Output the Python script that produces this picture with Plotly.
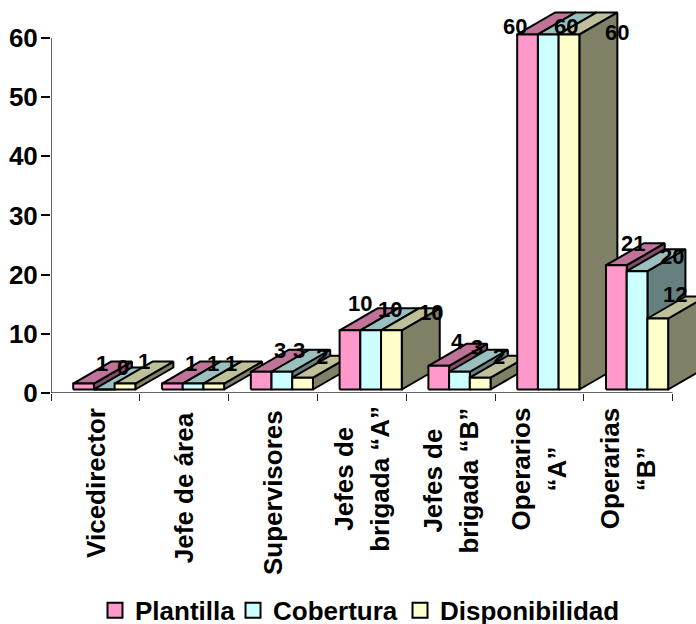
import plotly.graph_objects as go

categories = ["Vicedirector", "Jefe de área", "Supervisores", "Jefes de<br>brigada “A”",
              "Jefes de<br>brigada “B”", "Operarios<br>“A”", "Operarias<br>“B”"]
plantilla = [1, 1, 3, 10, 4, 60, 21]
cobertura = [0, 1, 3, 10, 3, 60, 20]
disponibilidad = [1, 1, 2, 10, 2, 60, 12]
series_names = ["Plantilla", "Cobertura", "Disponibilidad"]
series_values = [plantilla, cobertura, disponibilidad]
y_ticks = [0, 10, 20, 30, 40, 50, 60]

front_colors = ["#FF99CC", "#CCFFFF", "#FFFFCC"]
top_colors = ["#BF7399", "#99BFBF", "#BFBF99"]
side_colors = ["#804D66", "#668080", "#808066"]

# pseudo-3D geometry, in axis units
PX_PER_CAT = 88.8
PX_PER_UNIT = 5.917
GAP = 0.25
BAR_W = 0.2333
DX = 38 / PX_PER_CAT
DY = 22 / PX_PER_UNIT
BASE = 3.5 / PX_PER_UNIT

# pixel offsets of each data label from the top-centre of its bar's front face
label_dx = [[18, 19, 19], [19, 20, 17], [19, 17, 19], [10, 19, 40], [19, 18, 19], [-13, 18, 48], [17, 35, 17]]
label_dy = [[20, 22, 22], [20, 20, 20], [21, 21, 21], [27, 21, 18], [24, 24, 21], [8, 8, 2], [22, 15, 24]]
# pixels below the x axis of the middle of each category label
cat_label_drop = [89.5, 95, 100, 86, 88, 76, 76]
LINE_SPLIT = 18
# left edge, in paper fractions of the plot width, of each legend entry
legend_x = [0.0682, 0.2822, 0.5411]

fig = go.Figure()
annotations = []


def face(xs, ys, color):
    fig.add_trace(go.Scatter(x=xs, y=ys, mode="lines", fill="toself", fillcolor=color,
                             line=dict(color="black", width=2), cliponaxis=False,
                             showlegend=False, hoverinfo="skip"))


# axis lines stop at the last tick, while the plot area runs on for the depth of the bars
fig.add_trace(go.Scatter(x=[0, 0, len(categories)], y=[y_ticks[-1], 0, 0], mode="lines",
                         line=dict(color="#333", width=1.5), cliponaxis=False,
                         showlegend=False, hoverinfo="skip"))

for c in range(len(categories)):
    for s, values in enumerate(series_values):
        v = values[c]
        x0 = c + GAP + s * BAR_W
        x1 = x0 + BAR_W
        top = BASE + v
        face([x1, x1 + DX, x1 + DX, x1, x1], [BASE, BASE + DY, top + DY, top, BASE], side_colors[s])
        face([x0, x1, x1 + DX, x0 + DX, x0], [top, top, top + DY, top + DY, top], top_colors[s])
        face([x0, x1, x1, x0, x0], [BASE, BASE, top, top, BASE], front_colors[s])
        annotations.append(dict(x=(x0 + x1) / 2, y=top, text=f"<b>{v}</b>", showarrow=False,
                                xshift=label_dx[c][s], yshift=label_dy[c][s],
                                font=dict(family="Liberation Sans", size=22, color="black")))
    lines = categories[c].split("<br>")
    for i, line in enumerate(lines):
        shift = (2 * i - len(lines) + 1) * LINE_SPLIT
        annotations.append(dict(x=c + 0.5, y=0, text=f"<b>{line}</b>", showarrow=False, textangle=-90,
                                xanchor="center", yanchor="middle", xshift=shift,
                                yshift=-cat_label_drop[c],
                                font=dict(family="Liberation Sans", size=26, color="black")))

legend_layouts = {}
for i, (name, color) in enumerate(zip(series_names, front_colors)):
    key = "legend" if i == 0 else f"legend{i + 1}"
    fig.add_trace(go.Scatter(x=[None], y=[None], mode="markers", name=name, legend=key,
                             marker=dict(symbol="square", size=15, color=color,
                                         line=dict(color="black", width=2))))
    legend_layouts[key] = dict(x=legend_x[i], xanchor="left", y=-0.553, yanchor="middle",
                               font=dict(family="Liberation Sans", size=26, weight="bold"),
                               itemwidth=30, bgcolor="rgba(0,0,0,0)")

fig.update_layout(
    width=696, height=624, paper_bgcolor="white", plot_bgcolor="white",
    margin=dict(l=51, r=0, t=0, b=231, pad=0, autoexpand=False),
    annotations=annotations,
    font=dict(family="Liberation Sans", color="black"),
    xaxis=dict(range=[0, 645 / PX_PER_CAT], showticklabels=False, ticks="", showgrid=False,
               zeroline=False, showline=False, tickmode="array", tickvals=[],
               minor=dict(tickmode="array", tickvals=list(range(len(categories) + 1)),
                          ticks="outside", ticklen=7, tickwidth=1, tickcolor="#222", showgrid=False)),
    yaxis=dict(range=[0, 393 / PX_PER_UNIT], tickmode="array", tickvals=y_ticks, ticks="outside", ticklen=9,
               tickwidth=1.5, tickcolor="black", showgrid=False, zeroline=False, showline=False,
               ticklabelstandoff=-2,
               tickfont=dict(family="Liberation Sans", size=26, weight="bold")),
    **legend_layouts,
)

fig.write_html("out.html", config={"displayModeBar": False},
               post_script="document.body.style.margin='0';")
